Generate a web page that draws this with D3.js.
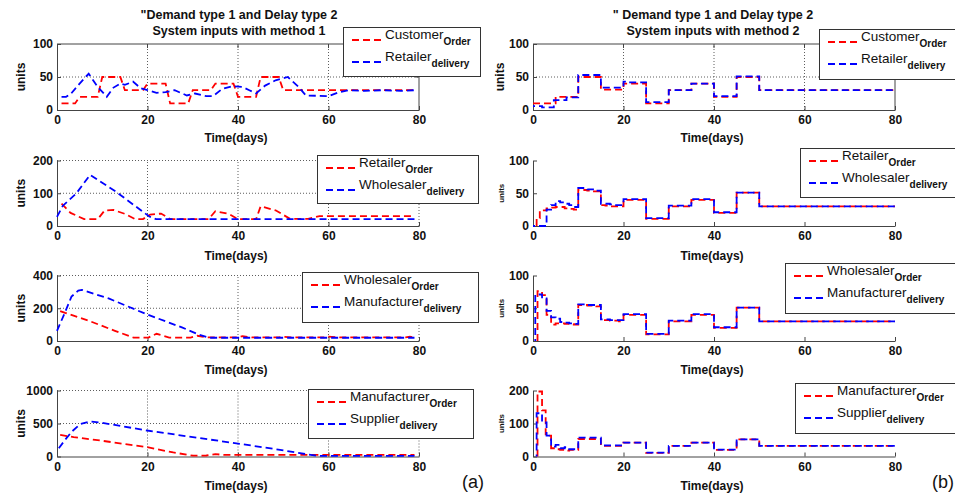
<!DOCTYPE html>
<html><head><meta charset="utf-8">
<script src="https://cdn.jsdelivr.net/npm/d3@7"></script>
<style>body{margin:0;background:#fff}svg{display:block}text{font-family:"Liberation Sans",Arial,sans-serif;fill:#111}</style>
</head><body><svg id="c" width="955" height="494"></svg>
<script>
// ---------- data ----------
const xTicks = [0, 20, 40, 60, 80];
const yTicksLeft = [[0, 50, 100], [0, 100, 200], [0, 200, 400], [0, 500, 1000]];
const yTicksRight = [[0, 50, 100], [0, 50, 100], [0, 50, 100], [0, 100, 200]];
const orderNames = ["Customer", "Retailer", "Wholesaler", "Manufacturer"];
const deliveryNames = ["Retailer", "Wholesaler", "Manufacturer", "Supplier"];
const subOrder = "Order", subDel = "delivery";
const titleLeft = ["\"Demand type 1 and Delay type 2", "System inputs with method 1"];
const titleRight = ["\" Demand type 1 and Delay type 2", "System inputs with method 2"];

// method 1 (left), [day, units]
const m1CustomerOrder = [[1,10],[4,10],[5,20],[9,20],[10,50],[14,50],[15,30],[19,30],[20,40],[24,40],[25,10],[29,10],[30,30],[34,30],[35,40],[39,40],[40,20],[44,20],[45,50],[49,50],[50,30],[79,30]];
const m1RetailerDelivery = [[1,20],[2,20],[3,24],[5,40],[7,55],[9,35],[11,20],[12.5,34],[14,40],[15,38],[16.8,43],[18.5,33],[20,30],[22,26],[24,27],[26,30],[28.7,22],[30.5,25],[33,21],[34.5,21],[36.5,32],[38.7,36],[41,35],[42.5,30],[44,25],[46,37],[48.3,45],[51,50],[53.4,35],[55,22],[60,21],[62.3,27],[64.5,30],[68,29],[72,30],[76,29],[79,30]];
const m1RetailerOrder = [[1,68],[3,40],[6,21],[9,21],[10.5,47],[12.5,49],[15,37],[17.3,21],[19,21],[20.6,35],[23,38],[25,21],[33.5,21],[35,45],[38,37],[40,21],[44,21],[45,60],[48.3,48],[51.5,22],[55.5,22],[58,30],[79,30]];
const m1WholesalerDelivery = [[0,28],[1.3,62],[4.3,100],[7.3,156],[13,105],[20.4,29],[21.9,21],[79,21]];
const m1WholesalerOrder = [[0.7,183],[1.8,172],[6.9,125],[12.8,62],[16.9,21],[20.2,21],[22,44],[24.8,21],[29.5,21],[31,32],[33,22],[40,22],[41,30],[43,22],[49,22],[50,26],[52,22],[59,22],[60,27],[62,22],[77,22],[78,26],[79,22]];
const m1ManufacturerDelivery = [[0,62],[1.8,177],[3.2,271],[4.7,308],[5.5,312],[11.4,260],[20.2,159],[27.6,83],[31.3,40],[33.5,20],[79,20]];
const m1ManufacturerOrder = [[0.7,328],[3.7,293],[9.6,242],[19.9,141],[25.7,61],[30.1,12],[33,15],[35,35],[37,25],[79,25]];
const m1SupplierDelivery = [[0.4,126],[1.8,253],[3.3,379],[5.1,490],[7.4,530],[9.6,515],[19.9,394],[31.6,278],[40.4,192],[49.3,101],[53.7,50],[57.4,10],[79,10]];

// method 2 (right), stairs: [start day, units], held until next / day 80
const m2CustomerOrder = [[0,10],[5,20],[10,50],[15,31],[20,40],[25,10],[30,30],[35,40],[40,20],[45,50],[50,30]];
const m2RetailerDelivery = [[0,6],[2,4],[4.6,15],[7.4,19],[10,53],[15,34],[20,43],[21,42],[25,12],[30,30],[35,40],[40,21],[45,51],[50,30]];
const m2RetailerOrder = [[0.8,0],[0.8,12],[1.5,24],[3,27],[4,28],[5,29],[7,27],[8,26],[9,25],[10,55],[12,54],[13,53],[15,32],[16,31],[17,30],[20,40],[25,11],[30,30],[35,40],[40,20],[45,51],[50,30]];
const m2WholesalerDelivery = [[0,0],[3,25],[4,32],[5,38],[6,36],[7,34],[8,32],[9,29],[10,58],[12,56],[14,54],[15,34],[17,33],[18,32],[20,41],[25,12],[30,31],[35,41],[40,21],[45,51],[50,30]];
const m2WholesalerOrder = [[1,0],[1,76],[2,70],[3,40],[4,25],[5,27],[7,26],[9,25],[10,55],[12,54],[14,53],[15,32],[17,31],[19,30],[20,40],[25,10],[30,30],[35,40],[40,20],[45,51],[50,30]];
const m2ManufacturerDelivery = [[0.5,0],[0.5,71],[2,65],[3,46],[4,36],[5,34],[6,29],[7,28],[8,27],[9,26],[10,56],[12,55],[15,33],[17,32],[20,41],[25,11],[30,31],[35,41],[40,21],[45,51],[50,30]];
const m2ManufacturerOrder = [[1,0],[1,197],[2,140],[2.8,63],[4,25],[5,22],[6,20],[7,18],[8,20],[10,53],[15,32],[20,42],[25,11],[30,32],[35,42],[40,20],[45,52],[50,32]];
const m2SupplierDelivery = [[0.8,0],[0.8,131],[2,103],[3,63],[4,30],[5,35],[6,25],[7,28],[8,22],[10,57],[15,34],[20,42],[25,12],[30,32],[35,42],[40,21],[45,52],[50,32]];

const leftOrders = [m1CustomerOrder, m1RetailerOrder, m1WholesalerOrder, m1ManufacturerOrder];
const leftDeliveries = [m1RetailerDelivery, m1WholesalerDelivery, m1ManufacturerDelivery, m1SupplierDelivery];
const rightOrders = [m2CustomerOrder, m2RetailerOrder, m2WholesalerOrder, m2ManufacturerOrder];
const rightDeliveries = [m2RetailerDelivery, m2WholesalerDelivery, m2ManufacturerDelivery, m2SupplierDelivery];

// ---------- layout ----------
const svg = d3.select("#c");
const panelTops = [44, 160.5, 275.5, 390.5], panelBottoms = [110, 226, 341, 456.5];
const colX = [[57, 419], [533, 895]];
const legendBoxes = [
  [[343, 27, 137, 49], [317, 155, 161, 48], [302, 272, 176, 50], [308, 389, 165, 49]],
  [[819, 29, 140, 50], [800, 148, 160, 49], [785, 263, 175, 50], [795, 383, 165, 50]]
];
const xLabelBase = [142, 260, 374, 490];
const RED = "#ff0000", BLUE = "#0000ff", AX = "#444";

function panel(col, row) {
  const left = col === 0;
  const x = d3.scaleLinear().domain([0, 80]).range(colX[col]);
  const yt = left ? yTicksLeft[row] : yTicksRight[row];
  const y = d3.scaleLinear().domain([0, yt[yt.length-1]]).range([panelBottoms[row], panelTops[row]]);
  const box = row === 0;
  const grid = left || row === 0;
  const g = svg.append("g");
  const [x0, x1] = x.range(), [yb, ytop] = y.range();
  if (grid) {
    const gx = xTicks.filter(t => t > 0 && (box ? t < 80 : true));
    g.selectAll(null).data(gx).join("line")
      .attr("x1", d => x(d)).attr("x2", d => x(d)).attr("y1", yb).attr("y2", ytop)
      .attr("stroke", "#333").attr("stroke-width", 0.8).attr("stroke-dasharray", "1,2");
    const gy = yt.filter(t => t > 0 && (box ? t < yt[yt.length-1] : true));
    g.selectAll(null).data(gy).join("line")
      .attr("y1", d => y(d)).attr("y2", d => y(d)).attr("x1", x0).attr("x2", x1)
      .attr("stroke", "#333").attr("stroke-width", 0.8).attr("stroke-dasharray", "1,2");
  }
  // axes
  const ax = g.append("g").attr("transform", `translate(0,${yb})`)
    .call(d3.axisBottom(x).tickValues(xTicks).tickFormat(d3.format("d")).tickSizeInner(-4).tickSizeOuter(0).tickPadding(4));
  const ay = g.append("g").attr("transform", `translate(${x0},0)`)
    .call(d3.axisLeft(y).tickValues(yt).tickFormat(d3.format("d")).tickSizeInner(-4).tickSizeOuter(0).tickPadding(4));
  [ax, ay].forEach(a => {
    a.select(".domain").attr("stroke", AX).attr("stroke-width", 1);
    a.selectAll(".tick line").attr("stroke", AX);
    a.selectAll(".tick text").attr("font-family", "Liberation Sans, Arial, sans-serif").attr("font-weight", "bold")
      .attr("font-size", 12).attr("fill", "#111");
  });
  ax.selectAll(".tick text").attr("dy", "0.85em");
  if (box) {
    g.append("line").attr("x1", x0).attr("x2", x1).attr("y1", ytop).attr("y2", ytop).attr("stroke", AX);
    g.append("line").attr("x1", x1).attr("x2", x1).attr("y1", ytop).attr("y2", yb).attr("stroke", AX);
    g.selectAll(null).data(xTicks.slice(1, -1)).join("line")
      .attr("x1", d => x(d)).attr("x2", d => x(d)).attr("y1", ytop).attr("y2", ytop + 4).attr("stroke", AX);
    g.selectAll(null).data(yt.slice(1, -1)).join("line")
      .attr("y1", d => y(d)).attr("y2", d => y(d)).attr("x1", x1).attr("x2", x1 - 4).attr("stroke", AX);
  }
  // lines
  const ord = left ? leftOrders[row] : rightOrders[row];
  const del = left ? leftDeliveries[row] : rightDeliveries[row];
  const line = d3.line().x(d => x(d[0])).y(d => y(d[1])).curve(left ? d3.curveLinear : d3.curveStepAfter);
  const ext = s => left ? s : s.concat([[80, s[s.length-1][1]]]);
  g.append("path").attr("d", line(ext(ord))).attr("fill", "none").attr("stroke", RED)
    .attr("stroke-width", 1.8).attr("stroke-dasharray", "7,4");
  g.append("path").attr("d", line(ext(del))).attr("fill", "none").attr("stroke", BLUE)
    .attr("stroke-width", 1.8).attr("stroke-dasharray", "7,4").attr("stroke-dashoffset", left ? 0 : 5);
  // labels
  const cx = (x0 + x1) / 2;
  svg.append("text").attr("x", cx - 2).attr("y", xLabelBase[row]).attr("text-anchor", "middle")
    .attr("font-weight", "bold").attr("font-size", 12).text("Time(days)");
  const uSmall = !left && row > 0;
  svg.append("text").attr("transform", `translate(${left ? 25 : 504},${(yb + ytop) / 2}) rotate(-90)`)
    .attr("text-anchor", "middle").attr("font-weight", "bold").attr("font-size", uSmall ? 8 : 12).text("units");
  return { x, y };
}

// titles
[[titleLeft, 239], [titleRight, 713]].forEach(([t, cx]) => {
  t.forEach((s, i) => svg.append("text").attr("x", cx).attr("y", 19 + i * 16).attr("text-anchor", "middle")
    .attr("font-weight", "bold").attr("font-size", 12.5).text(s));
});

for (let c = 0; c < 2; c++) for (let r = 0; r < 4; r++) panel(c, r);

// legends
function legend(col, row) {
  const [lx, ly, lw, lh] = legendBoxes[col][row];
  const g = svg.append("g");
  g.append("rect").attr("x", lx + 0.5).attr("y", ly + 0.5).attr("width", lw).attr("height", lh)
    .attr("fill", "#fff").attr("stroke", "#333").attr("stroke-width", 1);
  const rows = [[orderNames[row], subOrder, RED], [deliveryNames[row], subDel, BLUE]];
  const rowY = [ly + 13, ly + 35];
  rows.forEach(([name, sub, col2], i) => {
    const sy = rowY[i];
    g.append("line").attr("x1", lx + 9).attr("x2", lx + 38).attr("y1", sy).attr("y2", sy)
      .attr("stroke", col2).attr("stroke-width", 1.8).attr("stroke-dasharray", "7,4");
    const t = g.append("text").attr("x", lx + 42).attr("y", sy - 1.5).attr("font-size", 13.5);
    t.append("tspan").text(name);
    t.append("tspan").attr("dy", 6).attr("font-size", 10).attr("font-weight", "bold").text(sub);
  });
}
for (let c = 0; c < 2; c++) for (let r = 0; r < 4; r++) legend(c, r);

svg.append("text").attr("x", 462).attr("y", 488).attr("font-size", 18).attr("fill", "#333").text("(a)");
svg.append("text").attr("x", 932).attr("y", 488).attr("font-size", 18).attr("fill", "#333").text("(b)");
</script></body></html>
